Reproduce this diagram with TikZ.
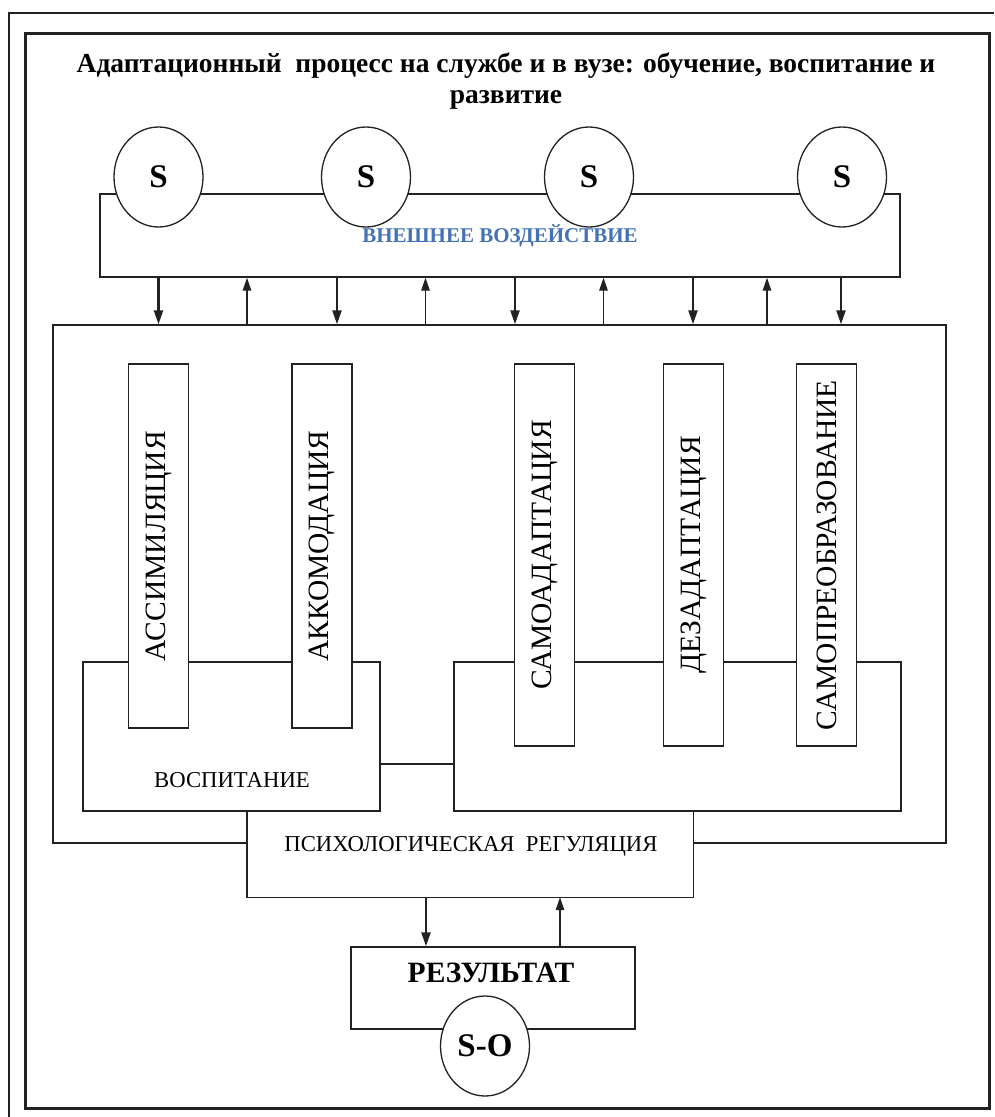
\documentclass[tikz,border=0pt]{standalone}
\usepackage{fontspec}
\setmainfont{Liberation Serif}
\usepackage{xcolor}
\usepackage{tikz}
\usetikzlibrary{shapes,arrows.meta,positioning,calc}

\definecolor{linegray}{RGB}{34,34,34}
\definecolor{steelblue}{RGB}{68,114,180}
\newcommand{\vlabel}[1]{\rotatebox{90}{\fontsize{29.5}{30}\selectfont #1}}

\begin{document}
\begin{tikzpicture}[x=1pt, y=-1pt,
    box/.style={rectangle, draw=linegray, line width=1.4pt, fill=white, inner sep=0pt},
    bar/.style={box, minimum width=60pt},
    oval/.style={ellipse, draw=linegray, line width=1.3pt, fill=white, inner sep=0pt, minimum width=89pt, minimum height=100pt, font=\fontsize{33}{33}\selectfont\bfseries},
    txt/.style={inner sep=0pt, font=\fontsize{22.7}{26}\selectfont},
    arrdown/.style={-{Stealth[length=14pt,width=9pt,inset=0pt]}, line width=2.2pt, draw=linegray},
    arrup/.style={-{Stealth[length=13pt,width=8.5pt,inset=0pt]}, line width=1.4pt, draw=linegray}]

    \useasboundingbox (0,0) rectangle (994,1117);

    % Frames
    \draw[line width=1.5pt, linegray] (9,1117) -- (9,13) -- (994,13);
    \draw[line width=3pt, linegray] (25,33) rectangle (989,1108);

    % Title
    \node[align=center, inner sep=0pt, font=\fontsize{27.5}{31}\selectfont\bfseries] (title) at (506,81)
        {Адаптационный~ процесс на службе и в вузе: обучение, воспитание и\\развитие};

    % External influence
    \node[box, minimum width=800pt, minimum height=83pt] (vnesh) at (500,235.5)
        {\bfseries\fontsize{21}{22}\selectfont\color{steelblue}ВНЕШНЕЕ ВОЗДЕЙСТВИЕ};
    \node[oval] (s1) at (158.5,177) {S};
    \node[oval] (s2) at (366,177) {S};
    \node[oval] (s3) at (589,177) {S};
    \node[oval] (s4) at (842,177) {S};

    % Adaptation block
    \node[box, minimum width=893pt, minimum height=518pt] (adapt) at (499.5,584) {};

    % Psychological regulation
    \node[rectangle, fill=white, inner sep=0pt, minimum width=446pt, minimum height=86pt] (psych) at (470,854) {};
    \draw[linegray, line width=1.4pt] (psych.north west) -- (psych.south west) -- (psych.south east) -- (psych.north east);
    \node[txt] (psychlbl) at (471,846) {ПСИХОЛОГИЧЕСКАЯ~ РЕГУЛЯЦИЯ};

    % Upbringing and development
    \node[box, minimum width=297pt, minimum height=149pt] (vosp) at (231.5,736.5) {};
    \node[txt] (vosplbl) at (232,780) {ВОСПИТАНИЕ};
    \node[box, minimum width=447pt, minimum height=149pt] (razv) at (677.5,736.5) {};
    \draw[linegray, line width=1.4pt] (vosp.east |- 0,764) -- (razv.west |- 0,764);

    % Vertical bars
    \node[bar, minimum height=364pt] (assim) at (158.5,546) {\vlabel{АССИМИЛЯЦИЯ}};
    \node[bar, minimum height=364pt] (akkom) at (322,546) {\vlabel{АККОМОДАЦИЯ}};
    \node[bar, minimum height=382pt] (samoad) at (544.5,555) {\vlabel{САМОАДАПТАЦИЯ}};
    \node[bar, minimum height=382pt] (dezad) at (693.5,555) {\vlabel{ДЕЗАДАПТАЦИЯ}};
    \node[bar, minimum height=382pt] (samopr) at (826.5,555) {\vlabel{САМОПРЕОБРАЗОВАНИЕ}};

    % Result
    \node[box, minimum width=284pt, minimum height=82pt] (result) at (493,988) {};
    \node[inner sep=0pt, font=\fontsize{29.5}{30}\selectfont\bfseries] (resultlbl) at (491,973) {РЕЗУЛЬТАТ};
    \node[oval] (so) at (485,1046) {S-O};

    % Arrows
    \foreach \x in {158.5,337,515,693,841}
        \draw[arrdown] (\x,0 |- vnesh.south) -- (\x,0 |- adapt.north);
    \foreach \x in {247,425.5,603.5,767}
        \draw[arrup] (\x,0 |- adapt.north) -- (\x,0 |- vnesh.south);
    \draw[arrdown] (426,0 |- psych.south) -- (426,0 |- result.north);
    \draw[arrup] (560,0 |- result.north) -- (560,0 |- psych.south);

\end{tikzpicture}
\end{document}
